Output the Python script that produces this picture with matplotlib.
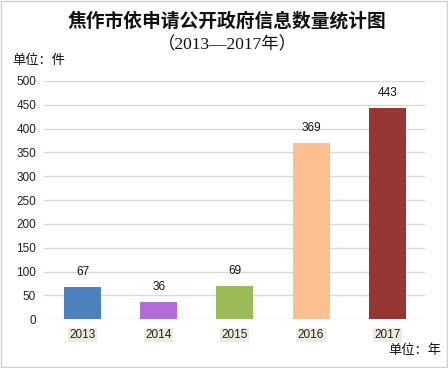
import matplotlib
matplotlib.use("Agg")
import matplotlib.pyplot as plt
from matplotlib.patches import Rectangle

years = ["2013", "2014", "2015", "2016", "2017"]
values = [67, 36, 69, 369, 443]
colors = ["#4F81BD", "#B36CD6", "#9BBB59", "#FAC090", "#953735"]
yticks = [0, 50, 100, 150, 200, 250, 300, 350, 400, 450, 500]

plt.rcParams['font.family'] = ['Noto Sans CJK SC', 'DejaVu Sans']

fig = plt.figure(figsize=(4.48, 3.68), dpi=100)
fig.patch.set_facecolor("white")
# border
fig.add_artist(Rectangle((0.002, 0.003), 0.995, 0.994, transform=fig.transFigure,
                         fill=False, edgecolor="#D0D0D0", linewidth=1.0))

ax = fig.add_axes([0.0993, 0.1323, 0.850, 0.6476])
x = list(range(len(years)))
bars = ax.bar(x, values, width=0.487, color=colors, zorder=3)
ax.set_xlim(-0.5, len(years) - 0.5)
ax.set_ylim(0, 500)
ax.set_yticks(yticks)
ax.set_yticklabels([str(t) for t in yticks], fontsize=8.5, family=['Liberation Sans'])
ax.set_xticks(x)
ax.set_xticklabels(years, fontsize=8.5, family=['Liberation Sans'])
for lab in ax.get_xticklabels():
    lab.set_bbox(dict(facecolor="#EEECE1", edgecolor="none", pad=1.0))
ax.tick_params(axis='both', length=0, colors="#222222")
ax.tick_params(axis='y', pad=6)
ax.tick_params(axis='x', pad=7)
ax.grid(axis='y', color="#D9D9D9", linewidth=1.0, zorder=0)
for s in ax.spines.values():
    s.set_visible(False)

for xi, v in zip(x, values):
    ax.annotate(str(v), (xi, v), xytext=(0, 6.5), textcoords="offset points",
                ha="center", va="bottom", fontsize=8.5, family=['Liberation Sans'], color="#111111")

fig.text(0.507, 0.943, "焦作市依申请公开政府信息数量统计图", ha="center", va="center",
         fontsize=13.5, fontweight="bold", color="#111111")
fig.text(0.507, 0.877, "（2013—2017年）", ha="center", va="center",
         fontsize=12.5, color="#111111", family=['Liberation Serif', 'Noto Sans CJK SC'])
fig.text(0.027, 0.835, "单位：件", ha="left", va="center", fontsize=9.5, color="#111111")
fig.text(0.985, 0.047, "单位：年", ha="right", va="center", fontsize=9.5, color="#111111")

fig.savefig("out.png", dpi=100, facecolor="white")
